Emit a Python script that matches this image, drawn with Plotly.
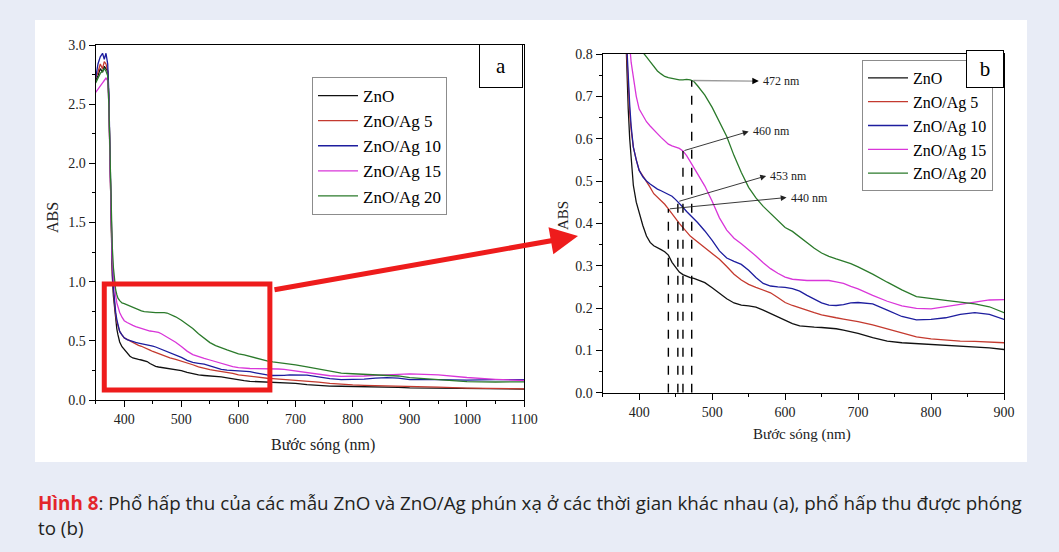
import numpy as np
import plotly.graph_objects as go

W, H = 1059, 552

# Wavelength grid (nm)
wavelength = [
    350, 354, 358, 362, 365, 368, 371,
    373, 375, 377, 379, 381, 383, 385, 387, 389, 392, 396,
    400, 405, 410, 415, 420, 425, 430, 435, 440, 445, 450, 455, 460, 465, 470, 475, 480,
    490, 500, 510, 520, 530, 540, 550, 560, 570, 580, 590, 600,
    610, 620, 630, 640, 650, 660, 670, 680, 690, 700,
    720, 740, 760, 780, 800, 820, 840, 860, 880, 900,
    950, 1000, 1050, 1100,
]

abs_zno = [
    2.70, 2.74, 2.80, 2.77, 2.82, 2.80, 2.78,
    2.55, 2.00, 1.40, 1.05, 0.88, 0.76, 0.67, 0.60, 0.55, 0.49, 0.45,
    0.425, 0.395, 0.370, 0.355, 0.347, 0.343, 0.338, 0.333, 0.325, 0.308, 0.295, 0.285, 0.279, 0.275, 0.272, 0.270, 0.267,
    0.260, 0.248, 0.234, 0.222, 0.212, 0.207, 0.205, 0.202, 0.195, 0.187, 0.178, 0.170,
    0.163, 0.158, 0.156, 0.155, 0.154, 0.153, 0.151, 0.148, 0.144, 0.140,
    0.130, 0.122, 0.118, 0.116, 0.115, 0.113, 0.111, 0.109, 0.106, 0.102,
    0.098, 0.094, 0.093, 0.092,
]

abs_ag5 = [
    2.72, 2.77, 2.84, 2.80, 2.86, 2.84, 2.78,
    2.55, 2.05, 1.45, 1.10, 0.92, 0.80, 0.72, 0.66, 0.62, 0.58, 0.55,
    0.525, 0.512, 0.500, 0.485, 0.470, 0.462, 0.454, 0.445, 0.434, 0.422, 0.410, 0.400, 0.390, 0.380, 0.370, 0.363, 0.356,
    0.344, 0.330, 0.315, 0.298, 0.280, 0.266, 0.256, 0.249, 0.243, 0.236, 0.225, 0.213,
    0.206, 0.200, 0.194, 0.189, 0.184, 0.180, 0.177, 0.174, 0.171, 0.168,
    0.160, 0.151, 0.141, 0.132, 0.127, 0.124, 0.122, 0.121, 0.120, 0.118,
    0.108, 0.100, 0.096, 0.094,
]

abs_ag10 = [
    2.72, 2.84, 2.90, 2.93, 2.88, 2.93, 2.84,
    2.60, 2.10, 1.50, 1.15, 0.95, 0.82, 0.74, 0.68, 0.63, 0.58, 0.55,
    0.525, 0.510, 0.500, 0.493, 0.486, 0.481, 0.477, 0.473, 0.469, 0.464, 0.456, 0.448, 0.438, 0.428, 0.420, 0.411, 0.402,
    0.382, 0.360, 0.335, 0.318, 0.310, 0.303, 0.289, 0.272, 0.258, 0.252, 0.250, 0.249,
    0.246, 0.240, 0.230, 0.220, 0.212, 0.207, 0.206, 0.208, 0.212, 0.213,
    0.210, 0.195, 0.180, 0.172, 0.173, 0.177, 0.185, 0.189, 0.185, 0.173,
    0.172, 0.168, 0.172, 0.172,
]

abs_ag15 = [
    2.60, 2.63, 2.65, 2.68, 2.70, 2.72, 2.70,
    2.50, 2.00, 1.50, 1.20, 1.05, 0.95, 0.88, 0.82, 0.78, 0.74, 0.70,
    0.670, 0.655, 0.640, 0.630, 0.620, 0.612, 0.603, 0.594, 0.587, 0.583, 0.580, 0.577, 0.571, 0.560, 0.546, 0.532, 0.516,
    0.488, 0.452, 0.413, 0.384, 0.365, 0.352, 0.338, 0.323, 0.307, 0.293, 0.282, 0.273,
    0.268, 0.266, 0.265, 0.265, 0.265, 0.265, 0.262, 0.258, 0.251, 0.245,
    0.230, 0.216, 0.205, 0.199, 0.198, 0.203, 0.208, 0.214, 0.219, 0.220,
    0.212, 0.190, 0.175, 0.165,
]

abs_ag20 = [
    2.68, 2.72, 2.76, 2.78, 2.80, 2.78, 2.74,
    2.50, 2.05, 1.60, 1.30, 1.12, 1.00, 0.93, 0.89, 0.86, 0.84, 0.82,
    0.815, 0.805, 0.793, 0.782, 0.770, 0.760, 0.753, 0.747, 0.744, 0.742, 0.740, 0.739, 0.739, 0.740, 0.739, 0.735, 0.725,
    0.703, 0.674, 0.641, 0.605, 0.560, 0.520, 0.485, 0.460, 0.440, 0.423, 0.407, 0.390,
    0.381, 0.367, 0.354, 0.341, 0.330, 0.322, 0.316, 0.311, 0.305, 0.297,
    0.280, 0.261, 0.243, 0.227, 0.222, 0.218, 0.214, 0.210, 0.203, 0.189,
    0.172, 0.155, 0.152, 0.153,
]

series_names = ["ZnO", "ZnO/Ag 5", "ZnO/Ag 10", "ZnO/Ag 15", "ZnO/Ag 20"]
series_values = [abs_zno, abs_ag5, abs_ag10, abs_ag15, abs_ag20]
series_colors = ["#111111", "#c43a2f", "#1d1d9e", "#d936d9", "#2b7a2b"]

# Absorption shoulder positions (nm) for ZnO/Ag 5, 10, 15, 20
peak_nm = [440, 453, 460, 472]
peak_series = [1, 2, 3, 4]
# Where each pointer arrow ends (nm, ABS)
pointer_tip = [(602, 0.461), (574, 0.512), (550, 0.617), (564, 0.736)]

x_ticks_a = [400, 500, 600, 700, 800, 900, 1000, 1100]
x_ticks_b = [400, 500, 600, 700, 800, 900]

caption_line1 = ("<b><span style='color:#e3262b'>Hình 8</span></b>: Phổ hấp thu của các mẫu ZnO và "
                 "ZnO/Ag phún xạ ở các thời gian khác nhau (a), phổ hấp thu được phóng")
caption_line2 = "to (b)"


def px(x):
    return x / W


def py(y):
    return 1 - y / H


SERIF = "Liberation Serif"
fig = go.Figure()

for name, vals, col in zip(series_names, series_values, series_colors):
    fig.add_trace(go.Scatter(x=wavelength, y=vals, mode="lines", name=name,
                             line=dict(color=col, width=1.3),
                             xaxis="x", yaxis="y", legend="legend"))
for name, vals, col in zip(series_names, series_values, series_colors):
    fig.add_trace(go.Scatter(x=wavelength, y=vals, mode="lines", name=name,
                             line=dict(color=col, width=1.3),
                             xaxis="x2", yaxis="y2", legend="legend2"))

# Dashed drop lines from each shoulder down to the axis, plus pointer arrows and labels
annotations = []
for w, si, tip in zip(peak_nm, peak_series, pointer_tip):
    yv = float(np.interp(w, wavelength, series_values[si]))
    fig.add_trace(go.Scatter(x=[w, w], y=[0, yv], mode="lines", showlegend=False,
                             line=dict(color="black", width=1.4, dash="dash"),
                             xaxis="x2", yaxis="y2", hoverinfo="skip"))
    common = dict(xref="x2", yref="y2", axref="x2", ayref="y2", text="",
                  showarrow=True, standoff=0, startstandoff=0)
    if w == 472:
        annotations.append(dict(x=tip[0] - 6, y=tip[1], ax=w, ay=yv, arrowhead=0,
                                arrowwidth=1.3, arrowcolor="#9a9a9a", **common))
        annotations.append(dict(x=tip[0], y=tip[1], ax=tip[0] - 7, ay=tip[1], arrowhead=2,
                                arrowsize=1.3, arrowwidth=1, arrowcolor="black", **common))
    else:
        annotations.append(dict(x=tip[0], y=tip[1], ax=w, ay=yv, arrowhead=2,
                                arrowsize=1.3, arrowwidth=0.9, arrowcolor="#222", **common))
    annotations.append(dict(x=tip[0] + 3, y=tip[1], xref="x2", yref="y2", text=f"{w} nm",
                            showarrow=False, xanchor="left", yanchor="middle",
                            font=dict(family=SERIF, size=12, color="#222")))


def label(x, y, text, size, **kw):
    d = dict(x=px(x), y=py(y), xref="paper", yref="paper", text=text, showarrow=False,
             xanchor="center", yanchor="middle", font=dict(family=SERIF, size=size, color="#222"))
    d.update(kw)
    return d


annotations += [
    label(323, 445, "Bước sóng (nm)", 16),
    label(52, 218, "ABS", 16, textangle=-90),
    label(802, 435, "Bước sóng (nm)", 15),
    label(563, 216, "ABS", 15, textangle=-90),
    # panel letters
    label(501, 66, "a", 21, bgcolor="white", bordercolor="black", borderwidth=1,
          width=40, height=40, font=dict(family=SERIF, size=21, color="black")),
    label(985, 69, "b", 21, bgcolor="white", bordercolor="black", borderwidth=1,
          width=34, height=34, font=dict(family=SERIF, size=21, color="black")),
    # zoom pointer
    dict(x=px(578), y=py(236), xref="paper", yref="paper", text="", showarrow=True,
         ax=-305, ay=54, arrowhead=2, arrowsize=1.1, arrowwidth=5, arrowcolor="#ee1c1c",
         standoff=0, startstandoff=0),
    # caption
    dict(x=px(36), y=py(503), xref="paper", yref="paper", text=caption_line1, showarrow=False,
         xanchor="left", yanchor="middle", font=dict(family="Open Sans", size=18.8, color="#231f20")),
    dict(x=px(36), y=py(528), xref="paper", yref="paper", text=caption_line2, showarrow=False,
         xanchor="left", yanchor="middle", font=dict(family="Open Sans", size=18.8, color="#231f20")),
]

shapes = [
    # white figure panel
    dict(type="rect", xref="paper", yref="paper", x0=px(35), x1=px(1027), y0=py(462), y1=py(20),
         fillcolor="white", line=dict(width=0), layer="below"),
    # highlighted region in panel a
    dict(type="rect", xref="x", yref="y", x0=365, x1=655, y0=0.085, y1=0.98,
         line=dict(color="#ee1c1c", width=5), layer="above"),
]

axis_common = dict(showline=True, mirror=True, linecolor="black", linewidth=1.1,
                   showgrid=False, zeroline=False, ticks="outside", ticklen=6, tickwidth=1,
                   tickcolor="black", automargin=False)

fig.update_layout(
    width=W, height=H,
    margin=dict(l=0, r=0, t=0, b=0, pad=0, autoexpand=False),
    paper_bgcolor="#e8ecf6",
    plot_bgcolor="white",
    xaxis=dict(domain=[px(95.7), px(524)], range=[350, 1100], tickvals=x_ticks_a,
               minor=dict(dtick=50, tick0=350, ticks="outside", ticklen=3, tickcolor="black"),
               tickfont=dict(family=SERIF, size=14, color="#222"), anchor="y", **axis_common),
    yaxis=dict(domain=[py(400), py(45)], range=[0, 3.0], dtick=0.5, tick0=0, tickformat=".1f",
               minor=dict(dtick=0.25, ticks="outside", ticklen=3, tickcolor="black"),
               tickfont=dict(family=SERIF, size=14, color="#222"), anchor="x", **axis_common),
    xaxis2=dict(domain=[px(602.7), px(1004)], range=[350, 900], tickvals=x_ticks_b,
                minor=dict(dtick=50, tick0=350, ticks="outside", ticklen=3, tickcolor="black"),
                tickfont=dict(family=SERIF, size=14, color="#222"), anchor="y2", **axis_common),
    yaxis2=dict(domain=[py(392.7), py(54)], range=[0, 0.8], dtick=0.1, tick0=0, tickformat=".1f",
                minor=dict(dtick=0.05, ticks="outside", ticklen=3, tickcolor="black"),
                tickfont=dict(family=SERIF, size=14, color="#222"), anchor="x2", **axis_common),
    legend=dict(x=px(312), y=py(77), xanchor="left", yanchor="top", bgcolor="white",
                bordercolor="#8c8c8c", borderwidth=1, itemwidth=40, tracegroupgap=0,
                font=dict(family=SERIF, size=17, color="black")),
    legend2=dict(x=px(862), y=py(60), xanchor="left", yanchor="top", bgcolor="white",
                 bordercolor="#8c8c8c", borderwidth=1, itemwidth=40, tracegroupgap=0,
                 font=dict(family=SERIF, size=16, color="black")),
    shapes=shapes,
    annotations=annotations,
    showlegend=True,
)

fig.write_html("out.html")
